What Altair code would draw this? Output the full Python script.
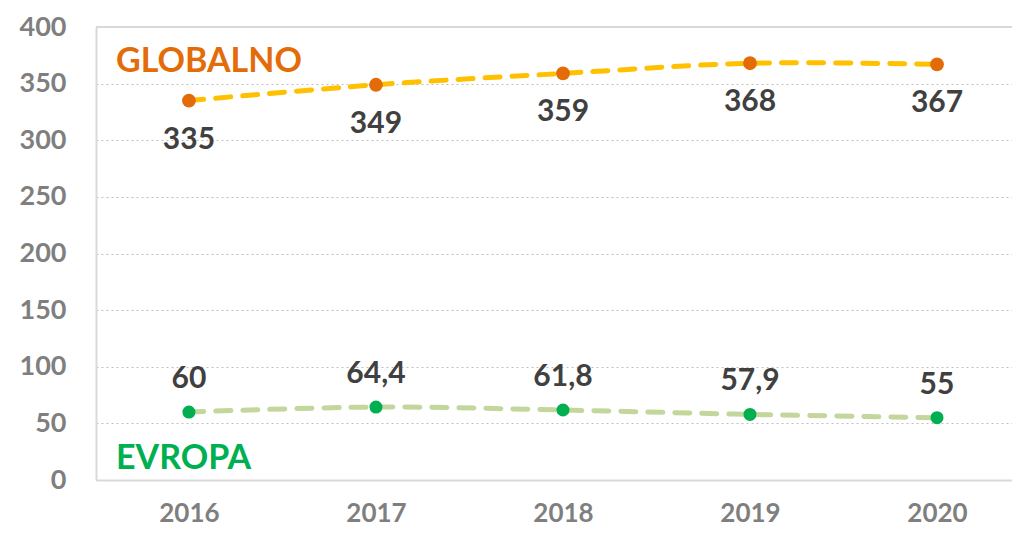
import altair as alt
import pandas as pd

years = [2016, 2017, 2018, 2019, 2020]
globalno = [335, 349, 359, 368, 367]
evropa = [60, 64.4, 61.8, 57.9, 55]
globalno_labels = ["335", "349", "359", "368", "367"]
evropa_labels = ["60", "64,4", "61,8", "57,9", "55"]

df = pd.DataFrame({
    "year": years * 2,
    "value": globalno + evropa,
    "label": globalno_labels + evropa_labels,
    "series": ["GLOBALNO"] * 5 + ["EVROPA"] * 5,
})
g = df[df.series == "GLOBALNO"]
e = df[df.series == "EVROPA"]

FONT = "Lato"
x = alt.X("year:Q", scale=alt.Scale(domain=[2015.503, 2020.401], nice=False, zero=False),
          axis=alt.Axis(values=years, format="d", title=None, labelFontSize=26, labelFont=FONT,
                        labelFontWeight="bold", labelColor="#7F7F7F", grid=False, ticks=False,
                        domainColor="#D9D9D9", domainWidth=2, labelPadding=20))
y = alt.Y("value:Q", scale=alt.Scale(domain=[0, 400], nice=False),
          axis=alt.Axis(values=[0, 50, 100, 150, 200, 250, 300, 350, 400], title=None,
                        labelFontSize=27, labelFont=FONT, labelFontWeight="bold",
                        labelColor="#7F7F7F", ticks=False, domainColor="#D9D9D9", domainWidth=2,
                        gridColor="#BFBFBF", gridDash=[2, 3], gridWidth=1, labelPadding=30))

top_rule = alt.Chart(pd.DataFrame({"v": [400]})).mark_rule(color="#D9D9D9", strokeWidth=2).encode(
    y=alt.Y("v:Q", scale=alt.Scale(domain=[0, 400], nice=False)))

def series_layers(data, line_color, dot_color, dot_size, dy):
    c = alt.Chart(data)
    line = c.mark_line(color=line_color, strokeWidth=5, strokeDash=[15, 12],
                       interpolate="catmull-rom", strokeCap="round").encode(x=x, y=y)
    pts = c.mark_circle(color=dot_color, size=dot_size, opacity=1).encode(x=x, y=y)
    txt = c.mark_text(font=FONT, fontSize=30, fontWeight="bold", color="#404040", dy=dy).encode(
        x=x, y=y, text="label:N")
    return [line, pts, txt]

t_glob = alt.Chart(pd.DataFrame({"t": ["GLOBALNO"]})).mark_text(
    font=FONT, fontSize=34, fontWeight="bold", color="#E36C09", align="left", baseline="middle"
).encode(x=alt.value(20), y=alt.value(35), text="t:N")
t_evr = alt.Chart(pd.DataFrame({"t": ["EVROPA"]})).mark_text(
    font=FONT, fontSize=34, fontWeight="bold", color="#00B050", align="left", baseline="middle"
).encode(x=alt.value(20), y=alt.value(432), text="t:N")

layers = [top_rule]
layers += series_layers(g, "#FFC000", "#E36C09", 190, 39)
layers += series_layers(e, "#C3D69B", "#00B050", 170, -33)
layers += [t_glob, t_evr]

chart = alt.layer(*layers).properties(
    width=916, height=453,
    autosize=alt.AutoSizeParams(type="none"),
    padding={"left": 88, "top": 19, "right": 0, "bottom": 46},
    background="white",
).configure_view(stroke=None)

chart.save("out.html", embed_options={"renderer": "svg", "actions": False})
